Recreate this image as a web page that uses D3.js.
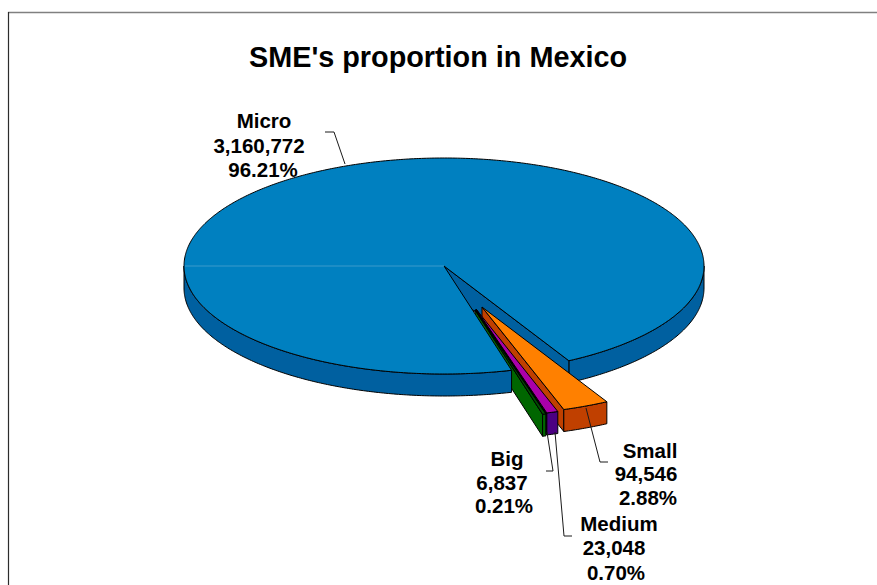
<!DOCTYPE html>
<html>
<head>
<meta charset="utf-8">
<script src="https://cdn.jsdelivr.net/npm/d3@7"></script>
<style>
  html, body { margin: 0; padding: 0; background: #fff; overflow: hidden; }
  svg { display: block; }
  text { font-family: "Liberation Sans", Arial, sans-serif; font-weight: bold; fill: #000; }
</style>
</head>
<body>
<script>
// Enterprise counts by size
const categories = ["Micro", "Small", "Medium", "Big"];
const counts = [3160772, 94546, 23048, 6837];
const shareLabels = ["96.21%", "2.88%", "0.70%", "0.21%"];
const countLabels = ["3,160,772", "94,546", "23,048", "6,837"];

// Layout
const W = 877, H = 585;
const cx = 444, cy = 266, rx = 260, ry = 108, depth = 22;
const topFill = ["#0080c0", "#ff8000", "#aa00aa", "#004d00"];
const wallFill = ["#0060a0", "#c04000", "#4b0082", "#006600"];
const cutFill = ["#0060a0", "#c04000", "#000000", "#006600"];
const offsets = [[0, 0], [38, 41], [32, 43], [31, 44]];
const labelLineX = [[264, 259, 263], [650, 646, 648], [619, 614, 616], [507, 502, 504]];
const labelLineY = [[128, 153, 177], [458, 481, 505], [531, 555, 580], [466, 490, 513]];
const leaders = [
  [[325, 132], [334, 132], [345, 164]],
  [[586, 408], [600, 462], [608, 462]],
  [[555, 432], [564, 536], [572, 536]],
  [[547, 432], [553, 471], [546, 471]]
];

// Angles are measured from straight down, positive toward the right; the pie
// runs clockwise on screen, so they decrease. The right edge of the wedge holding
// the three smaller groups fixes where the micro slice has to begin.
const wedgeRight = (28.7 / 180) * Math.PI;
const total = d3.sum(counts);
const firstAngle = wedgeRight - (2 * Math.PI * (total - counts[0])) / total;
const pie = d3.pie().sort(null).startAngle(firstAngle).endAngle(firstAngle - 2 * Math.PI);
const arcs = pie(counts);

const svg = d3.select("body").append("svg").attr("width", W).attr("height", H);

// Chart frame, cropped at the right and bottom of the window
svg.append("line").attr("x1", 8).attr("y1", 12.5).attr("x2", W).attr("y2", 12.5)
  .attr("stroke", "#808080").attr("stroke-width", 1.4);
svg.append("line").attr("x1", 8.5).attr("y1", 12).attr("x2", 8.5).attr("y2", H)
  .attr("stroke", "#2c2c2c").attr("stroke-width", 1.2);

svg.append("text").attr("x", 438).attr("y", 67).attr("text-anchor", "middle")
  .attr("font-size", 28.8).text("SME's proportion in Mexico");

const project = (a, off, dz = 0) => [
  cx + off[0] + rx * Math.sin(a),
  cy + off[1] + ry * Math.cos(a) + dz
];

function arcPoints(a0, a1, off, dz) {
  const n = Math.max(2, Math.ceil(Math.abs(a1 - a0) / 0.01));
  return d3.range(n + 1).map(i => project(a0 + (a1 - a0) * i / n, off, dz));
}
const line = d3.line();
const poly = pts => line(pts) + "Z";
const outlined = sel => sel.attr("stroke", "#000").attr("stroke-width", 1).attr("stroke-linejoin", "round");

const rimPath = (a0, a1, off) => poly(arcPoints(a0, a1, off, 0).concat(arcPoints(a1, a0, off, depth)));
const topPath = (a0, a1, off) => poly([[cx + off[0], cy + off[1]]].concat(arcPoints(a0, a1, off, 0)));

const zero = offsets[0];
const micro = arcs[0];
const cutLeft = micro.startAngle;
const cutRight = micro.endAngle + 2 * Math.PI;

// Right-hand rim and the exposed cut face inside the wedge
svg.append("path").attr("d", rimPath(cutRight, Math.PI / 2, zero)).attr("fill", wallFill[0]).call(outlined);
const pR = project(cutRight, zero);
svg.append("path")
  .attr("d", poly([[cx, cy], pR, [pR[0], pR[1] + depth], [cx, cy + depth]]))
  .attr("fill", cutFill[0]).call(outlined);

// Exploded slices, each one covering the cut face of the one before
[1, 2, 3].forEach(i => {
  const d = arcs[i], off = offsets[i];
  const a0 = d.startAngle, a1 = d.endAngle;
  const apex = [cx + off[0], cy + off[1]];
  const end = project(a1, off);
  const g = svg.append("g").attr("class", "slice-" + categories[i]);
  g.append("path")
    .attr("d", poly([apex, end, [end[0], end[1] + depth], [apex[0], apex[1] + depth]]))
    .attr("fill", cutFill[i]).call(outlined);
  g.append("path").attr("d", rimPath(a0, a1, off)).attr("fill", wallFill[i]).call(outlined);
  g.append("path").attr("d", topPath(a0, a1, off)).attr("fill", topFill[i]).call(outlined);
});

// Left-hand rim and the top face lie in front of the exploded wedge
svg.append("path").attr("d", rimPath(cutLeft, -Math.PI / 2, zero)).attr("fill", wallFill[0]).call(outlined);
svg.append("path").attr("d", topPath(micro.startAngle, micro.endAngle, zero)).attr("fill", topFill[0]).call(outlined);

// Seam across the face of the disc
svg.append("line").attr("x1", cx - rx + 1).attr("y1", cy).attr("x2", cx).attr("y2", cy)
  .attr("stroke", "#3a9acb").attr("stroke-width", 1);

// Leader lines
leaders.forEach(pts => {
  svg.append("path").attr("d", line(pts)).attr("fill", "none")
    .attr("stroke", "#1a1a1a").attr("stroke-width", 1);
});

// Data labels
categories.forEach((c, i) => {
  const t = svg.append("text").attr("text-anchor", "middle").attr("font-size", 20.5);
  [c, countLabels[i], shareLabels[i]].forEach((s, k) => {
    t.append("tspan").attr("x", labelLineX[i][k]).attr("y", labelLineY[i][k]).text(s);
  });
});
</script>
</body>
</html>
